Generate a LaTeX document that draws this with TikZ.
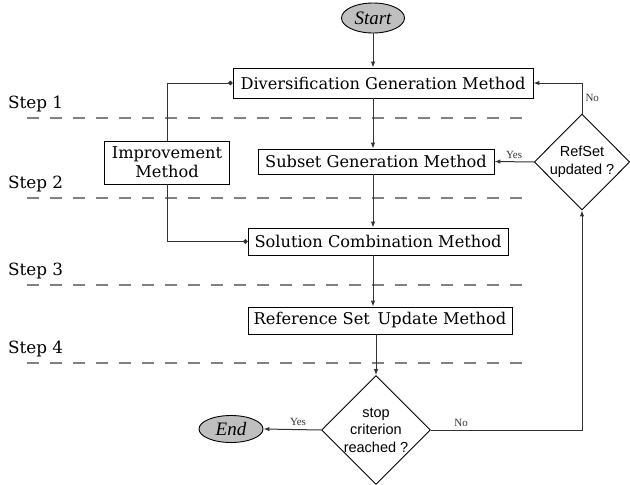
\documentclass[tikz,border=0pt]{standalone}
\usepackage{fontspec}
\setmainfont{DejaVu Serif}
\newfontfamily\diafont{Liberation Sans}
\newfontfamily\lblfont{Liberation Serif}
\usetikzlibrary{shapes.geometric,arrows.meta}
\definecolor{lgray}{HTML}{BFBFBF}
\begin{document}
\begin{tikzpicture}[x=1pt,y=-1pt,
  box/.style={draw,line width=0.9pt,minimum height=27pt,inner sep=0pt,font=\fontsize{16.2}{19}\selectfont},
  decision/.style={draw,diamond,line width=0.9pt,inner sep=0pt,align=center,font=\diafont\fontsize{14.5}{17.5}\selectfont},
  terminal/.style={draw,ellipse,fill=lgray,line width=0.9pt,inner sep=0pt,font=\lblfont\itshape\fontsize{19}{20}\selectfont},
  steplabel/.style={anchor=base west,inner sep=0pt,font=\fontsize{16.8}{19}\selectfont},
  sep/.style={gray,line width=1.3pt,dash pattern=on 12pt off 11pt},
  flow/.style={black!80,line width=1pt,-{Latex[length=6pt,width=4.5pt]}},
  dotflow/.style={black!80,line width=1pt,-{Circle[length=4.5pt]}},
  lbl/.style={font=\lblfont\fontsize{11}{12}\selectfont,inner sep=3pt}]
\useasboundingbox (0,0) rectangle (630,485);
\foreach \y/\b/\n in {118/108/1,198/188/2,285/275/3,363/353/4}{
  \draw[sep] (27,\y) -- (533,\y);
  \node[steplabel] (step\n) at (8,\b) {Step \n};
}
\node[terminal,minimum width=63pt,minimum height=30pt] (start) at (373,18) {Start};
\node[box,minimum width=300pt,minimum height=30pt] (dgm) at (383,83) {Diversification Generation Method};
\node[box,minimum width=236pt,minimum height=25pt] (sgm) at (376,161.5) {Subset Generation Method};
\node[box,minimum width=125pt,minimum height=43pt,align=center] (imp) at (167,162.5) {Improvement\\Method};
\node[box,minimum width=260pt] (scm) at (378,241.5) {Solution Combination Method};
\node[box,minimum width=264pt] (rsum) at (380,320.5) {Reference Set\, Update Method};
\node[decision,minimum width=94pt,minimum height=96pt] (refset) at (582,162) {RefSet\\updated ?};
\node[decision,minimum width=104pt,minimum height=102pt] (stop) at (376,430) {stop\\criterion\\reached ?};
\node[terminal,minimum width=64pt,minimum height=27pt] (end) at (231,429) {End};
\draw[flow] (start) -- (start |- dgm.north);
\draw[flow] (start |- dgm.south) -- (start |- sgm.north);
\draw[flow] (start |- sgm.south) -- (start |- scm.north);
\draw[flow] (start |- scm.south) -- (start |- rsum.north);
\draw[flow] (stop |- rsum.south) -- (stop.north);
\draw[dotflow] (imp.north) |- (dgm.west);
\draw[dotflow] (imp.south) |- (scm.west);
\draw[flow] (refset.west) -- node[lbl,above] {Yes} (sgm.east);
\draw[flow] (refset.north) |- node[lbl,right,pos=0.25] {No} (dgm.east);
\draw[flow] (stop.west) -- node[lbl,above,pos=0.4] {Yes} (end.east);
\draw[flow] (stop.east) -| node[lbl,above,pos=0.1] {No} (refset.south);
\end{tikzpicture}
\end{document}
